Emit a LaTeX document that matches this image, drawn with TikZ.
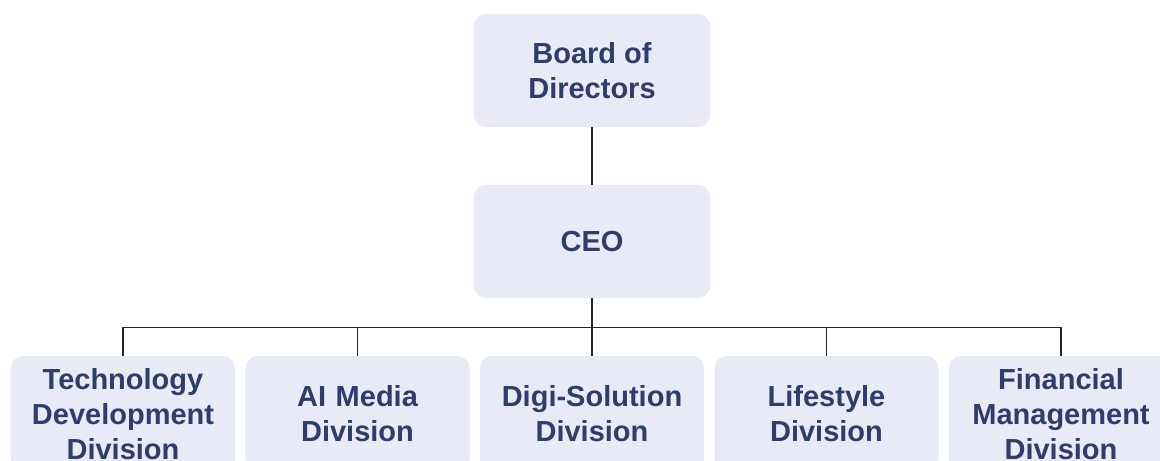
\documentclass[tikz,border=0pt]{standalone}
\usepackage{fontspec}
\setmainfont{Liberation Sans}
\definecolor{boxfill}{HTML}{E8EAF5}
\definecolor{boxtext}{HTML}{2E3D6C}
\definecolor{linkline}{HTML}{1E2638}

\begin{document}
\begin{tikzpicture}[node distance=85.5pt,
  main node/.style={rectangle,rounded corners=6pt,fill=boxfill,text=boxtext,align=center,
    font=\bfseries\fontsize{14.5}{17.5}\selectfont,minimum width=118pt,minimum height=56.5pt,inner sep=2pt},
  div node/.style={main node,minimum width=111.5pt,text width=108pt,minimum height=58pt}]

  \clip (-296pt,-194.75pt) rectangle (284pt,35.25pt);

  \node[main node] (1) {Board of\\Directors};
  \node[main node] (2) [below of=1] {CEO};
  \node[div node] (5) [below of=2, yshift=-0.75pt] {Digi-Solution\\Division};
  \node[div node] (4) [left of=5, node distance=117.25pt] {AI Media\\Division};
  \node[div node] (3) [left of=4, node distance=117.25pt] {Technology\\Development\\Division};
  \node[div node] (6) [right of=5, node distance=117.25pt] {Lifestyle\\Division};
  \node[div node] (7) [right of=6, node distance=117.25pt] {Financial\\Management\\Division};

  \coordinate (bus) at ([yshift=-14.5pt]2.south);

  \draw[linkline,line width=1.2pt] (1) -- (2);
  \draw[linkline,line width=1.2pt] (2) -- (5);
  \draw[linkline,line width=0.7pt] (bus) -| (3.north)
    (bus) -| (4.north)
    (bus) -| (6.north)
    (bus) -| (7.north);

\end{tikzpicture}
\end{document}
